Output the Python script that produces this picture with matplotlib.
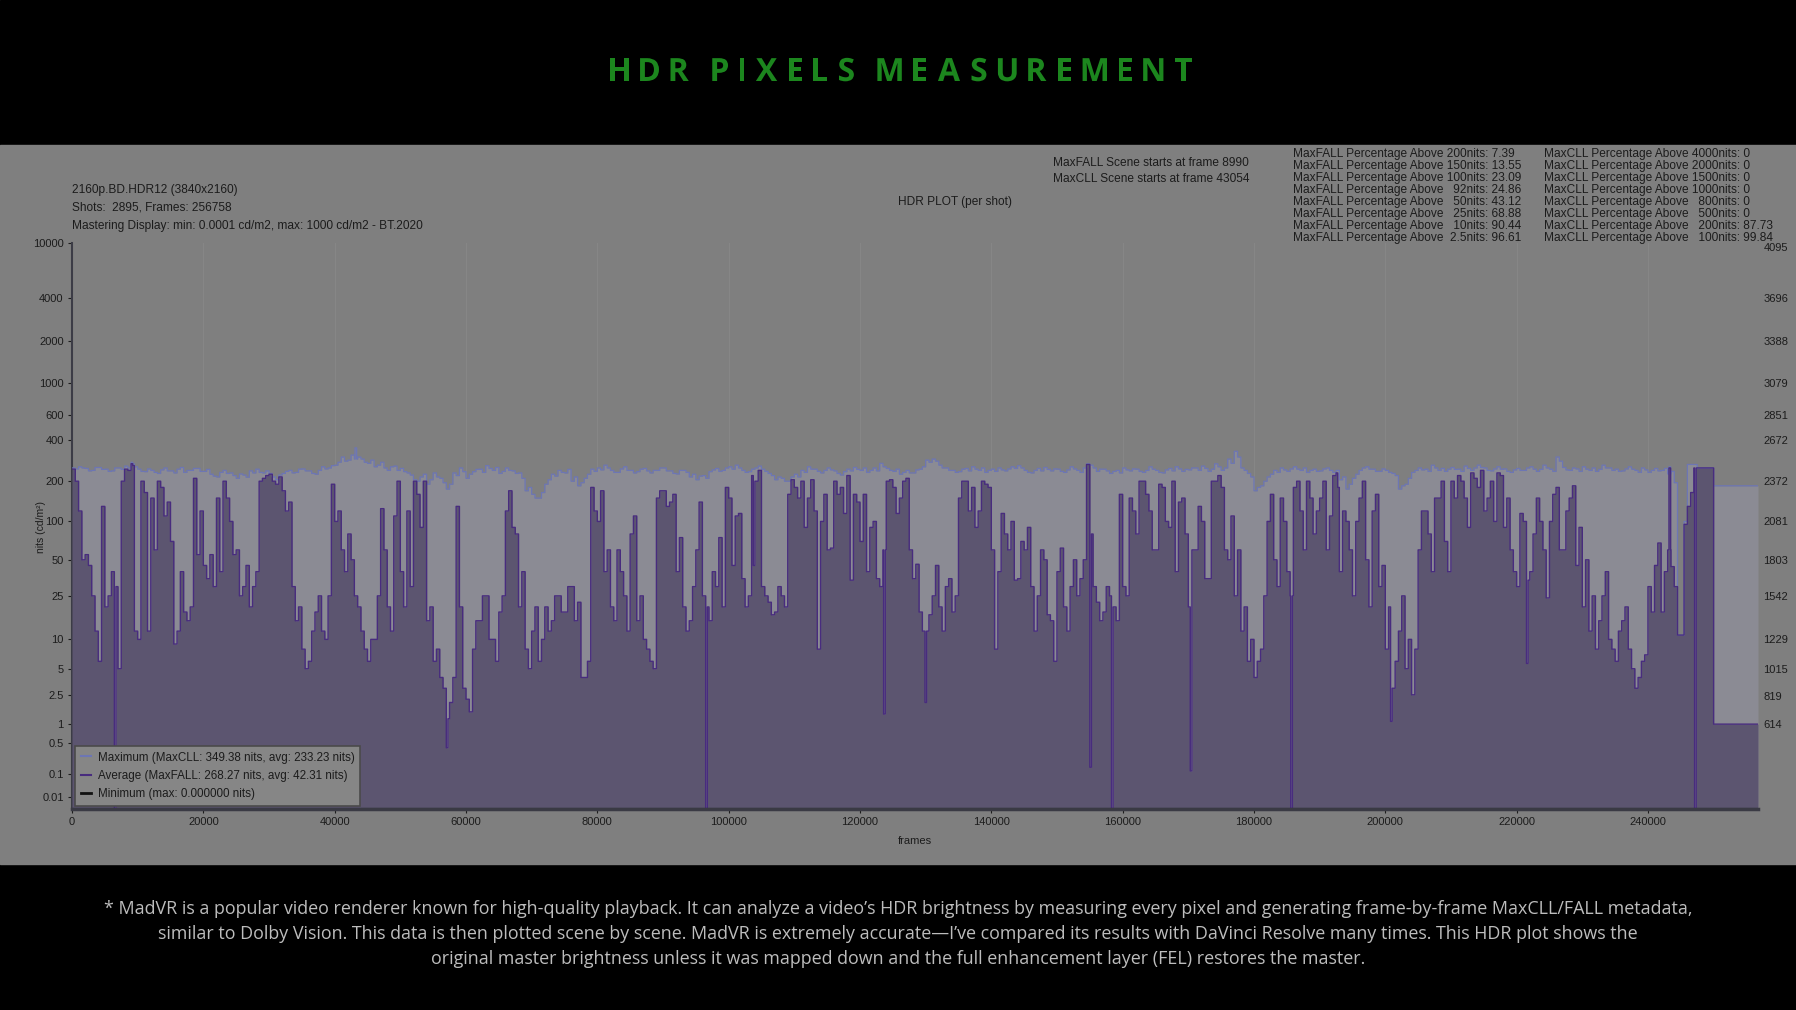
import numpy as np
import matplotlib
matplotlib.use("Agg")
import matplotlib.pyplot as plt
from matplotlib.lines import Line2D
from matplotlib.patches import Rectangle, PathPatch
from matplotlib.textpath import TextPath
from matplotlib.font_manager import FontProperties
from matplotlib.transforms import Affine2D

# Data (one value every 500 frames)
total_frames = 256758
step_frames = 500

avg_nits = [
    245, 200, 120, 50, 55, 45, 25, 12, 6, 130, 20, 25, 40, 30, 5, 200, 245, 240, 260, 12,
    10, 200, 165, 12, 150, 60, 200, 180, 110, 140, 70, 9, 12, 40, 18, 15, 20, 210, 55, 120,
    45, 35, 55, 30, 150, 40, 200, 150, 100, 55, 60, 25, 30, 45, 20, 30, 40, 200, 210, 220,
    225, 200, 190, 215, 170, 120, 140, 30, 15, 20, 8, 5, 6, 12, 18, 25, 12, 10, 25, 190,
    100, 120, 60, 40, 80, 50, 25, 20, 12, 8, 6, 10, 10, 25, 125, 60, 20, 12, 110, 200,
    40, 20, 120, 30, 200, 160, 90, 200, 15, 20, 6, 8, 4, 3, 1.2, 2, 4, 130, 20, 3,
    2.2, 1.5, 8, 15, 15, 25, 25, 10, 10, 6, 18, 25, 120, 170, 90, 80, 20, 40, 8, 5,
    12, 20, 6, 10, 20, 12, 15, 25, 25, 18, 18, 30, 30, 15, 22, 4, 4, 6, 180, 120,
    100, 170, 40, 60, 20, 15, 60, 40, 25, 12, 80, 110, 15, 25, 10, 8, 6, 5, 150, 170,
    170, 130, 140, 160, 40, 75, 20, 12, 15, 30, 60, 140, 25, 20, 15, 40, 30, 75, 20, 180,
    150, 45, 110, 115, 35, 20, 25, 45, 200, 240, 30, 25, 22, 17, 18, 30, 25, 20, 160, 205,
    180, 150, 200, 90, 150, 205, 120, 8, 100, 160, 60, 62, 200, 160, 180, 115, 220, 34, 160, 140,
    70, 160, 40, 90, 100, 35, 30, 60, 200, 205, 180, 115, 150, 200, 210, 60, 35, 46, 18, 12,
    12, 17, 25, 45, 20, 12, 30, 35, 18, 25, 150, 200, 200, 120, 180, 90, 120, 200, 190, 180,
    60, 8, 40, 115, 80, 60, 100, 34, 35, 70, 60, 90, 30, 12, 25, 60, 50, 17, 15, 6,
    40, 62, 20, 12, 30, 50, 25, 35, 50, 265, 80, 30, 22, 15, 18, 30, 25, 20, 15, 160,
    30, 25, 150, 120, 80, 200, 200, 160, 120, 60, 60, 190, 180, 100, 90, 200, 40, 140, 150, 80,
    20, 60, 60, 130, 100, 35, 35, 200, 200, 220, 180, 60, 50, 110, 25, 60, 12, 20, 6, 10,
    4, 6, 8, 25, 100, 160, 50, 30, 150, 100, 40, 25, 180, 200, 120, 60, 200, 150, 80, 120,
    150, 200, 60, 110, 220, 180, 40, 120, 100, 60, 25, 100, 150, 200, 50, 20, 120, 160, 30, 45,
    8, 20, 3, 6, 12, 25, 5, 10, 2.5, 8, 60, 120, 120, 80, 40, 150, 150, 200, 70, 40,
    200, 150, 220, 200, 150, 90, 230, 210, 180, 240, 120, 150, 200, 100, 230, 220, 90, 150, 60, 40,
    30, 115, 100, 34, 40, 80, 150, 100, 60, 24, 100, 160, 180, 60, 60, 120, 150, 185, 45, 90,
    20, 50, 12, 25, 8, 15, 25, 40, 10, 8, 6, 12, 15, 20, 8, 5, 3, 4, 6, 7,
    30, 18, 45, 68, 18, 40, 60, 44, 30, 11, 11, 95, 130, 165, 250, 250, 250, 250, 250, 250,
    1, 1, 1, 1, 1, 1, 1, 1, 1, 1, 1, 1, 1, 1,
]

max_nits = [
    250, 246, 255, 250, 248, 238, 240, 252, 252, 244, 245, 236, 238, 250, 250, 244, 258, 250, 268, 255,
    245, 236, 235, 246, 240, 232, 228, 242, 250, 238, 238, 230, 245, 252, 232, 240, 240, 248, 248, 236,
    236, 244, 225, 218, 215, 232, 240, 228, 230, 220, 210, 226, 222, 214, 238, 230, 245, 232, 230, 238,
    228, 215, 205, 222, 228, 236, 240, 230, 232, 245, 246, 238, 238, 228, 225, 240, 255, 246, 250, 260,
    262, 275, 300, 280, 285, 310, 290, 300, 290, 275, 270, 285, 255, 262, 275, 250, 240, 255, 258, 240,
    248, 235, 230, 222, 205, 200, 215, 225, 190, 205, 230, 215, 210, 195, 175, 190, 230, 220, 250, 235,
    210, 225, 235, 244, 245, 232, 260, 248, 240, 252, 228, 236, 250, 240, 238, 228, 230, 210, 170, 180,
    160, 150, 150, 165, 190, 205, 225, 218, 240, 232, 230, 244, 200, 215, 185, 195, 210, 225, 245, 236,
    250, 242, 262, 250, 240, 232, 232, 246, 255, 240, 240, 230, 235, 245, 248, 238, 230, 240, 240, 250,
    250, 238, 238, 228, 226, 240, 240, 232, 215, 225, 205, 218, 220, 210, 235, 242, 248, 236, 240, 250,
    255, 245, 262, 250, 240, 232, 235, 245, 250, 258, 245, 236, 228, 220, 205, 215, 210, 200, 200, 215,
    225, 215, 240, 232, 255, 245, 245, 236, 230, 240, 250, 242, 238, 228, 222, 235, 245, 238, 252, 244,
    240, 250, 232, 240, 250, 238, 270, 255, 248, 240, 236, 245, 225, 232, 240, 230, 230, 242, 245, 255,
    285, 275, 290, 280, 262, 250, 250, 240, 240, 232, 235, 245, 248, 238, 255, 245, 240, 250, 232, 240,
    245, 236, 250, 242, 238, 246, 255, 248, 260, 250, 240, 232, 230, 240, 248, 238, 252, 244, 238, 246,
    245, 236, 232, 242, 255, 246, 240, 232, 250, 268, 262, 250, 236, 245, 245, 238, 228, 236, 240, 230,
    250, 242, 238, 246, 245, 236, 232, 240, 255, 245, 240, 232, 230, 242, 248, 238, 255, 246, 236, 244,
    242, 250, 250, 240, 258, 248, 236, 245, 268, 255, 240, 250, 290, 270, 330, 300, 250, 240, 228, 215,
    170, 180, 185, 200, 215, 225, 240, 232, 250, 242, 236, 246, 255, 245, 240, 250, 232, 240, 245, 236,
    238, 246, 250, 240, 232, 240, 205, 215, 175, 190, 210, 225, 240, 250, 255, 245, 245, 236, 236, 246,
    240, 232, 228, 220, 175, 185, 190, 210, 232, 240, 250, 242, 245, 236, 262, 250, 240, 248, 236, 245,
    252, 244, 245, 236, 258, 248, 240, 250, 262, 252, 250, 240, 238, 246, 255, 245, 246, 236, 232, 242,
    248, 240, 240, 250, 255, 245, 236, 244, 262, 250, 245, 236, 300, 280, 252, 242, 240, 250, 246, 236,
    255, 245, 240, 250, 236, 244, 262, 250, 250, 240, 245, 236, 238, 246, 255, 245, 240, 232, 250, 242,
    232, 240, 248, 238, 240, 248, 226, 236, 195, 11, 11, 100, 265, 265, 265, 250, 250, 250, 250, 250,
    185, 185, 185, 185, 185, 185, 185, 185, 185, 185, 185, 185, 185, 185,
]

# single short shots that stand out as thin spikes
avg_spike_frames = [6450, 8990, 57000, 96500, 99700, 103500, 123600, 129900, 155000,
                    158300, 170300, 185600, 192500, 200800, 221500, 238000, 243200, 247100]
avg_spike_nits = [0, 268.27, 0.4, 0, 180, 220, 1.4, 2, 0.15,
                  0, 0.12, 0, 230, 1.1, 5.7, 3, 250, 0]
max_spike_frames = [8990, 43054, 243200]
max_spike_nits = [275, 349.38, 255]
spike_len = 250

left_tick_nits = [10000, 4000, 2000, 1000, 600, 400, 200, 100, 50, 25, 10, 5, 2.5, 1, 0.5, 0.1, 0.01]
left_tick_labels = ["10000", "4000", "2000", "1000", "600", "400", "200", "100", "50", "25",
                    "10", "5", "2.5", "1", "0.5", "0.1", "0.01"]
right_tick_codes = [4095, 3696, 3388, 3079, 2851, 2672, 2372, 2081, 1803, 1542, 1229, 1015, 819, 614]
x_ticks = list(range(0, 240001, 20000))

maxfall_lines = [
    "MaxFALL Percentage Above 200nits: 7.39",
    "MaxFALL Percentage Above 150nits: 13.55",
    "MaxFALL Percentage Above 100nits: 23.09",
    "MaxFALL Percentage Above   92nits: 24.86",
    "MaxFALL Percentage Above   50nits: 43.12",
    "MaxFALL Percentage Above   25nits: 68.88",
    "MaxFALL Percentage Above   10nits: 90.44",
    "MaxFALL Percentage Above  2.5nits: 96.61",
]
maxcll_lines = [
    "MaxCLL Percentage Above 4000nits: 0",
    "MaxCLL Percentage Above 2000nits: 0",
    "MaxCLL Percentage Above 1500nits: 0",
    "MaxCLL Percentage Above 1000nits: 0",
    "MaxCLL Percentage Above   800nits: 0",
    "MaxCLL Percentage Above   500nits: 0",
    "MaxCLL Percentage Above   200nits: 87.73",
    "MaxCLL Percentage Above   100nits: 99.84",
]

footnote = [
    "* MadVR is a popular video renderer known for high-quality playback. It can analyze a video\u2019s HDR brightness by measuring every pixel and generating frame-by-frame MaxCLL/FALL metadata,",
    "similar to Dolby Vision. This data is then plotted scene by scene. MadVR is extremely accurate\u2014I\u2019ve compared its results with DaVinci Resolve many times. This HDR plot shows the",
    "original master brightness unless it was mapped down and the full enhancement layer (FEL) restores the master.",
]

# Colours
GREY = "#7f7f7f"
MAXFILL = "#8b8b94"
AVGFILL = "#5c5570"
MAXLINE = "#6d76b4"
AVGLINE = "#482c7e"
TXT = "#1c1c1c"
SANS = "Liberation Sans"


def nits_to_pq(n):
    # SMPTE ST 2084 inverse EOTF, as 12 bit code value
    m1, m2 = 0.1593017578125, 78.84375
    c1, c2, c3 = 0.8359375, 18.8515625, 18.6875
    y = np.asarray(n, dtype=float) / 10000.0
    ym = y ** m1
    return ((c1 + c2 * ym) / (1 + c3 * ym)) ** m2 * 4095


def per_shot(values, spike_frames, spike_vals, frames):
    v = np.array(values, dtype=float)[np.minimum(frames // step_frames, len(values) - 1)]
    for f, s in zip(spike_frames, spike_vals):
        v[(frames >= f) & (frames < f + spike_len)] = s
    return v


frames = np.append(np.arange(0, total_frames, 50), total_frames)
avg = per_shot(avg_nits, avg_spike_frames, avg_spike_nits, frames)
mx = per_shot(max_nits, max_spike_frames, max_spike_nits, frames)
mn = np.zeros_like(frames, dtype=float)

fig = plt.figure(figsize=(17.96, 10.10), dpi=100)

# background in pixel coordinates (y down)
bg = fig.add_axes([0, 0, 1, 1])
bg.set_xlim(0, 1796)
bg.set_ylim(1010, 0)
bg.axis("off")
bg.add_patch(Rectangle((0, 0), 1796, 1010, color="black"))
bg.add_patch(Rectangle((0, 145), 1796, 719, color=GREY))

# letter-spaced title drawn glyph by glyph
title = "HDR PIXELS MEASUREMENT"
fp = FontProperties(family="Open Sans", weight="bold")
size, gap, space = 32, 11.5, 12
glyphs, cursor = [], 0.0
for ch in title:
    if ch == " ":
        cursor += space
        continue
    tp = TextPath((0, 0), ch, size=size, prop=fp)
    ext = tp.get_extents()
    glyphs.append((tp, cursor - ext.x0))
    cursor += ext.width + gap
cursor -= gap
x0 = 901 - cursor / 2
for tp, off in glyphs:
    tr = Affine2D().scale(1, -1).translate(x0 + off, 81)
    bg.add_patch(PathPatch(tr.transform_path(tp), color="#1c861e", lw=0))

# header texts
hdr = dict(fontsize=8.6, color=TXT, family=SANS, va="center")
bg.text(72, 190, "2160p.BD.HDR12 (3840x2160)", **hdr)
bg.text(72, 208, "Shots:  2895, Frames: 256758", **hdr)
bg.text(72, 226, "Mastering Display: min: 0.0001 cd/m2, max: 1000 cd/m2 - BT.2020", **hdr)
bg.text(955, 202, "HDR PLOT (per shot)", ha="center", **hdr)
bg.text(1053, 163, "MaxFALL Scene starts at frame 8990", **hdr)
bg.text(1053, 179, "MaxCLL Scene starts at frame 43054", **hdr)
for i in range(len(maxfall_lines)):
    y = 154.5 + i * 12.0
    bg.text(1293, y, maxfall_lines[i], **hdr)
    bg.text(1544, y, maxcll_lines[i], **hdr)

for i, line in enumerate(footnote):
    bg.text(898, 909 + i * 25, line, ha="center", va="center", fontsize=12.9,
            family="Open Sans", color="#bdbdbd")

bg.text(41, 527, "nits (cd/m\u00b2)", rotation=90, ha="center", va="center",
        fontsize=7.5, family=SANS, color=TXT)

# main plot (transparent face: the grey panel behind shows through)
ax = fig.add_axes([72 / 1796, 1 - 809 / 1010, 1686 / 1796, 566 / 1010])
ax.set_facecolor("none")
ax.fill_between(frames, nits_to_pq(mx), step="post", color=MAXFILL, lw=0, zorder=2)
ax.fill_between(frames, nits_to_pq(avg), step="post", color=AVGFILL, lw=0, zorder=3)
ax.step(frames, nits_to_pq(mx), where="post", color=MAXLINE, lw=0.9, zorder=4)
ax.step(frames, nits_to_pq(avg), where="post", color=AVGLINE, lw=1.0, zorder=5)
ax.step(frames, nits_to_pq(mn), where="post", color="#111111", lw=1.5, zorder=6)

ax.set_xlim(0, total_frames)
ax.set_ylim(0, 4095)
ax.set_xticks(x_ticks)
ax.set_xticklabels([str(t) for t in x_ticks])
ax.set_yticks(nits_to_pq(left_tick_nits))
ax.set_yticklabels(left_tick_labels)
ax.tick_params(labelsize=8, colors=TXT, length=3, width=0.8, pad=3)
for lab in ax.get_xticklabels() + ax.get_yticklabels():
    lab.set_family(SANS)
ax.grid(axis="x", color="#868686", lw=0.8, zorder=0)
ax.set_axisbelow(True)
for s in ["top", "right"]:
    ax.spines[s].set_visible(False)
ax.spines["left"].set_color("#3c3c46")
ax.spines["left"].set_linewidth(1.5)
ax.spines["bottom"].set_color("#3a3a44")
ax.spines["bottom"].set_linewidth(2.5)
ax.spines["bottom"].set_zorder(7)
ax.set_xlabel("frames", fontsize=8, family=SANS, color=TXT, labelpad=6)

ax2 = ax.twinx()
ax2.set_facecolor("none")
ax2.set_ylim(0, 4095)
ax2.set_yticks(right_tick_codes)
ax2.set_yticklabels([str(c) for c in right_tick_codes], family=SANS)
ax2.tick_params(labelsize=8, colors=TXT, length=0, pad=4)
ax2.get_yticklabels()[0].set_va("top")  # top label sits just below the axis top
for s in ax2.spines.values():
    s.set_visible(False)

handles = [
    Line2D([0], [0], color=MAXLINE, lw=1.5),
    Line2D([0], [0], color=AVGLINE, lw=1.5),
    Line2D([0], [0], color="#111111", lw=2),
]
labels = [
    "Maximum (MaxCLL: 349.38 nits, avg: 233.23 nits)",
    "Average (MaxFALL: 268.27 nits, avg: 42.31 nits)",
    "Minimum (max: 0.000000 nits)",
]
leg = ax2.legend(handles, labels, loc="lower left", bbox_to_anchor=(0.002, 0.006),
                 borderaxespad=0, fancybox=False, framealpha=1, handlelength=0.9,
                 handletextpad=0.6, labelspacing=0.55, borderpad=0.45,
                 prop=FontProperties(family=SANS, size=8.4))
leg.get_frame().set_facecolor("#868686")
leg.get_frame().set_edgecolor("#4a4a4a")
leg.get_frame().set_linewidth(1.2)
for t in leg.get_texts():
    t.set_color(TXT)

fig.savefig("out.png", dpi=100)
